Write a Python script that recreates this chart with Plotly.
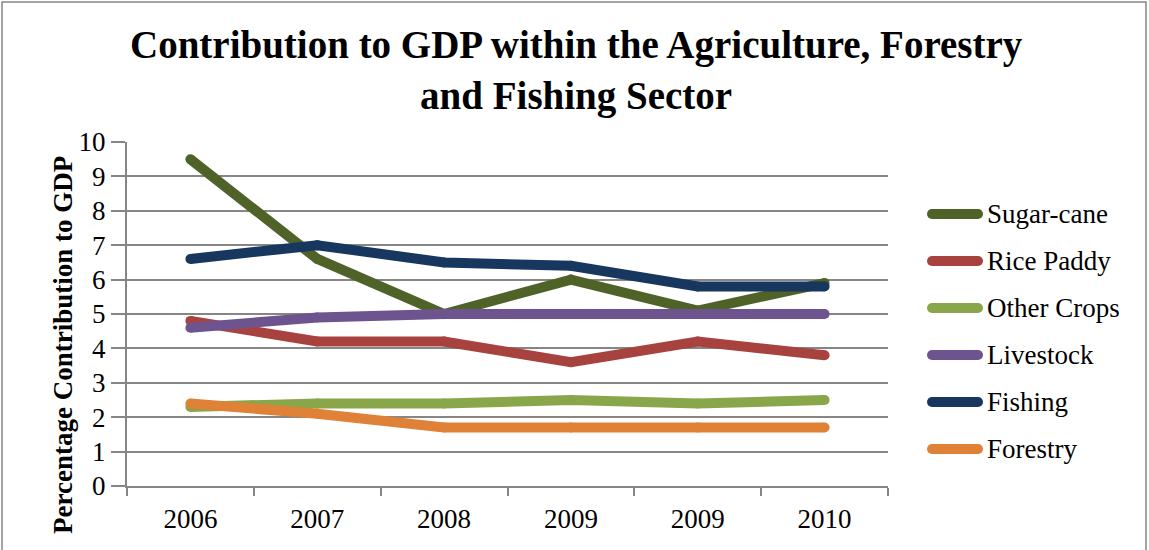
import plotly.graph_objects as go

# Year labels (the source table repeats 2009)
years = ["2006", "2007", "2008", "2009", "2009", "2010"]

# Percentage contribution to GDP by sub-sector
sugar_cane = [9.5, 6.6, 5.0, 6.0, 5.1, 5.9]
rice_paddy = [4.8, 4.2, 4.2, 3.6, 4.2, 3.8]
other_crops = [2.3, 2.4, 2.4, 2.5, 2.4, 2.5]
livestock = [4.6, 4.9, 5.0, 5.0, 5.0, 5.0]
fishing = [6.6, 7.0, 6.5, 6.4, 5.8, 5.8]
forestry = [2.4, 2.1, 1.7, 1.7, 1.7, 1.7]

series_names = ["Sugar-cane", "Rice Paddy", "Other Crops", "Livestock", "Fishing", "Forestry"]
series_values = [sugar_cane, rice_paddy, other_crops, livestock, fishing, forestry]
colors = ["#4F6228", "#A8423F", "#8AA64B", "#6E548E", "#17375E", "#DF8137"]

W, H = 1149, 550
L, R, T, B = 127, 261, 142, 64
PW, PH = W - L - R, H - T - B

FONT = "Liberation Serif"
LINE_W = 10
TXT = 27

fig = go.Figure()
x_pos = list(range(len(years)))
for name, vals, col in zip(series_names, series_values, colors):
    fig.add_trace(go.Scatter(
        x=x_pos, y=vals, name=name, mode="lines+markers",
        line=dict(color=col, width=LINE_W),
        marker=dict(color=col, size=LINE_W, line=dict(width=0)),
        showlegend=False, hoverinfo="x+y+name",
    ))

def px_x(p):
    return (p - L) / PW

def px_y(p):
    return (H - B - p) / PH

shapes = []
annotations = []

# Legend keys: thick rounded line samples with labels
for i, (name, col) in enumerate(zip(series_names, colors)):
    yc = 214 + 47 * i
    shapes.append(dict(type="line", xref="paper", yref="paper",
                       x0=px_x(932), x1=px_x(978), y0=px_y(yc), y1=px_y(yc),
                       line=dict(color=col, width=LINE_W), layer="above"))
    for cx in (932, 978):
        shapes.append(dict(type="circle", xref="paper", yref="paper",
                           x0=px_x(cx - 5), x1=px_x(cx + 5),
                           y0=px_y(yc + 5), y1=px_y(yc - 5),
                           fillcolor=col, line=dict(width=0), layer="above"))
    annotations.append(dict(text=name, xref="paper", yref="paper",
                            x=px_x(985), y=px_y(yc), xanchor="left", yanchor="middle",
                            showarrow=False, font=dict(family=FONT, size=TXT, color="#000")))

# Outer chart border
shapes.append(dict(type="rect", xref="paper", yref="paper",
                   x0=px_x(2), x1=px_x(1146), y0=px_y(600), y1=px_y(2),
                   line=dict(color="#868686", width=1.5), layer="below"))

# Y-axis title
annotations.append(dict(text="<b>Percentage Contribution to GDP</b>", xref="paper", yref="paper",
                        x=px_x(63), y=px_y(345), textangle=-90, showarrow=False,
                        xanchor="center", yanchor="middle",
                        font=dict(family=FONT, size=TXT, color="#000")))

# Chart title
annotations.append(dict(text="<b>Contribution to GDP within the Agriculture, Forestry<br>and Fishing Sector</b>",
                        xref="paper", yref="paper", x=px_x(576), y=px_y(70),
                        xanchor="center", yanchor="middle", showarrow=False,
                        font=dict(family=FONT, size=39, color="#000")))

fig.update_layout(
    width=W, height=H,
    margin=dict(l=L, r=R, t=T, b=B),
    paper_bgcolor="white", plot_bgcolor="white",
    shapes=shapes, annotations=annotations,
    showlegend=False,
)

fig.update_xaxes(
    range=[-0.5, len(years) - 0.5], tickvals=x_pos, ticktext=years,
    ticks="", showgrid=False, zeroline=False,
    showline=True, linecolor="#868686", linewidth=2,
    tickfont=dict(family=FONT, size=TXT, color="#000"),
    ticklabelstandoff=8,
    minor=dict(tick0=-0.5, dtick=1, ticks="outside", ticklen=8,
               tickcolor="#868686", tickwidth=2, showgrid=False),
)
fig.update_yaxes(
    range=[0, 10], dtick=1, tick0=0,
    ticks="outside", ticklen=14, tickcolor="#868686", tickwidth=2,
    showgrid=True, gridcolor="#868686", gridwidth=2, zeroline=False,
    showline=True, linecolor="#868686", linewidth=2,
    tickfont=dict(family=FONT, size=TXT, color="#000"),
)

fig.write_html("out.html")
